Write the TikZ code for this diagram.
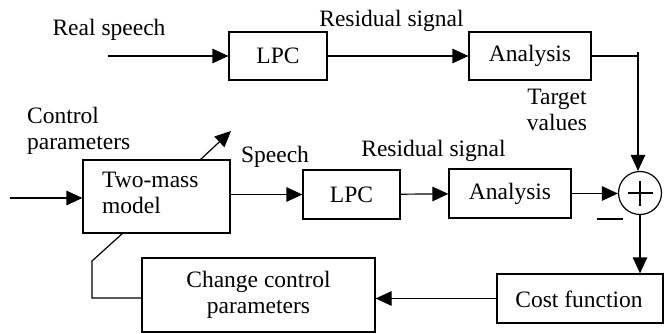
\documentclass[tikz,border=0pt]{standalone}
\usepackage{fontspec}
\setmainfont{Liberation Serif}
\usetikzlibrary{arrows.meta}
\begin{document}
\begin{tikzpicture}[x=1pt,y=-1pt,
  every node/.style={font=\fontsize{23.5}{26}\selectfont, inner sep=0pt},
  blk/.style={draw, line width=1.2pt, minimum width=#1, anchor=center},
  arr/.style={line width=1.2pt, -{Triangle[length=16pt,width=14.5pt]}},
  ln/.style={line width=1.2pt}]
\useasboundingbox (0,0) rectangle (664,334);
% blocks
\node[blk=98pt, minimum height=48pt] (lpc1) at (278,56) {LPC};
\node[blk=122pt, minimum height=48pt] (ana1) at (530,56) {Analysis};
\node[blk=147pt, minimum height=73pt] (tm) at (156.5,196.5) {};
\node[align=left, anchor=west] (tmtxt) at (102,193) {Two-mass\\model};
\node[blk=97pt, minimum height=49pt] (lpc2) at (351.5,194.5) {LPC};
\node[blk=122pt, minimum height=49pt] (ana2) at (510,193.5) {Analysis};
\node[blk=233pt, minimum height=74pt, align=center] (cc) at (258.5,295) {Change control\\parameters};
\node[blk=166pt, minimum height=49pt] (cf) at (580,298.5) {};
\node (cftxt) at (579,299) {Cost function};
\node[draw, circle, line width=1.2pt, minimum size=43pt] (sum) at (640,193) {};
\draw[line width=1.2pt] ([xshift=-12.5pt]sum.center) -- ([xshift=12.5pt]sum.center)
  ([yshift=-12.5pt]sum.center) -- ([yshift=12.5pt]sum.center);
% labels
\node[anchor=base] (rs) at (109,36) {Real speech};
\node[anchor=base] (res1) at (391.5,27) {Residual signal};
\node[align=center] (tv) at (557,110) {Target\\values};
\node[align=left, anchor=west] (cp) at (27,131) {Control\\parameters};
\node[anchor=base] (sp) at (275,162) {Speech};
\node[anchor=base] (res2) at (433.5,157) {Residual signal};
% coordinates
\coordinate (rsin) at (108,56);
\coordinate (in) at (10,198);
\coordinate (c1) at (638,56);
\coordinate (c1t) at (638,52);
\coordinate (d0) at (200,160);
\coordinate (d1) at (231,131);
\coordinate (f1) at (92,298);
\coordinate (f2) at (92,261);
\coordinate (f3) at (123,233);
\coordinate (m1) at (597,219);
\coordinate (m2) at (623,219);
% connectors
\draw[arr] (rsin) -- (lpc1);
\draw[arr] (lpc1) -- (ana1);
\draw[ln] (ana1.east) -- (c1);
\draw[arr] (c1t) -- (c1t |- sum.north);
\draw[arr] (in) -- (in -| tm.west);
\draw[arr] (tm.east |- lpc2) -- (lpc2.west);
\draw[arr] (lpc2) -- (ana2);
\draw[arr] (ana2.east) -- (ana2.east -| sum.west);
\draw[arr] (sum.south) -- (sum.south |- cf.north);
\draw[arr] (cf.west) -- (cc.east |- cf.west);
\draw[arr] (d0) -- (d1);
\draw[ln] (cc.west |- f1) -- (f1) -- (f2) -- (f3);
\draw[ln] (m1) -- (m2);
\end{tikzpicture}
\end{document}
